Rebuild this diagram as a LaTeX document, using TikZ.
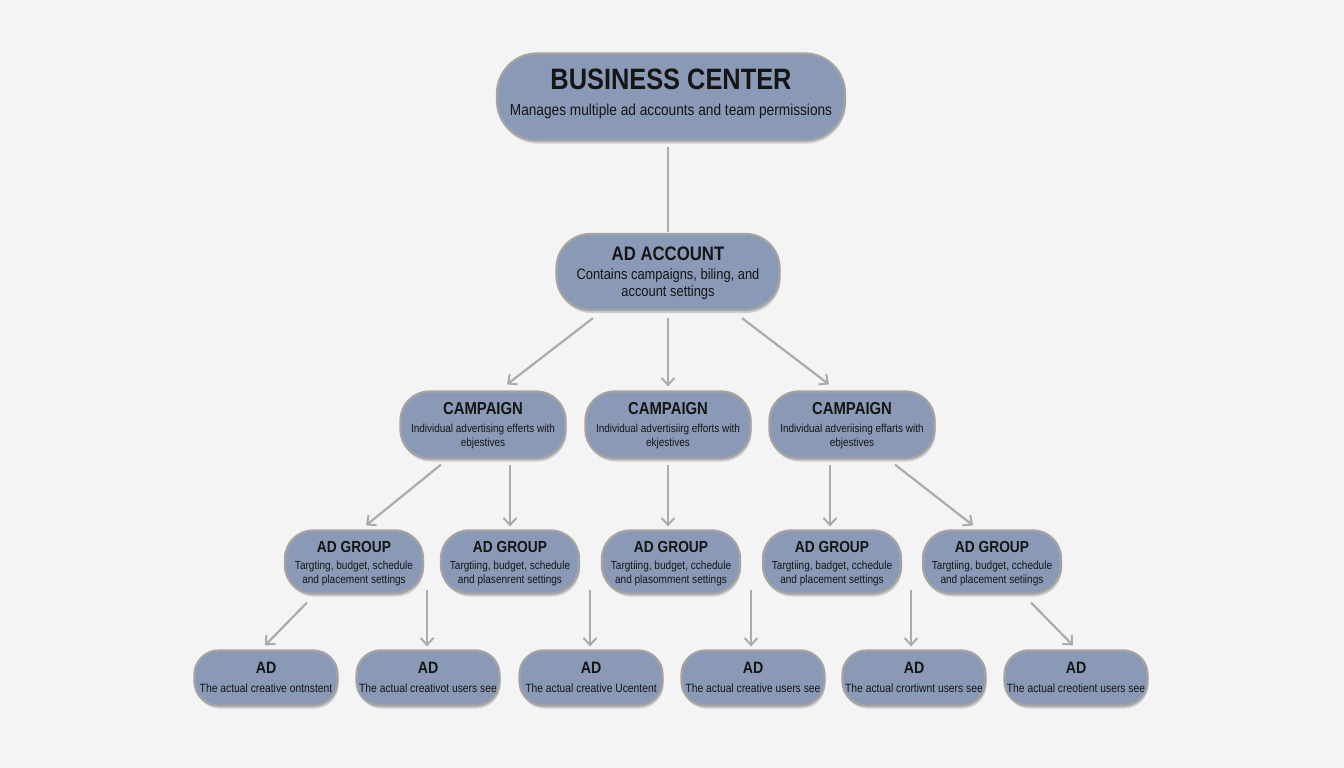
\documentclass[tikz,border=0pt]{standalone}
\usepackage{fontspec}
\setmainfont{Liberation Sans}[FakeStretch=0.86]
\usetikzlibrary{arrows.meta,calc,shadows}
\definecolor{bgc}{HTML}{F4F4F4}
\definecolor{boxfill}{HTML}{8A9AB6}
\definecolor{boxline}{HTML}{A3A3A3}
\definecolor{conncol}{HTML}{ABABAB}
\definecolor{txt}{HTML}{151515}
\tikzset{
  pill/.style={draw=boxline, line width=2.2pt, fill=boxfill, inner sep=0pt,
    drop shadow={shadow xshift=1pt, shadow yshift=-3pt, opacity=0.16, fill=black}},
  ttl/.style={inner sep=0pt, text=txt, font=\bfseries},
  sub/.style={inner sep=0pt, text=txt, align=center},
  conn/.style={draw=conncol, line width=2.2pt,
    -{Straight Barb[length=7pt,width=13pt,line width=2pt]}},
  plain/.style={draw=conncol, line width=2.4pt},
  bcbox/.style={pill, rounded corners=40pt, minimum width=348pt, minimum height=87pt},
  aabox/.style={pill, rounded corners=34pt, minimum width=223pt, minimum height=76pt},
  cbox/.style={pill, rounded corners=29pt, minimum width=165pt, minimum height=67pt},
  agbox/.style={pill, rounded corners=28pt, minimum width=138pt, minimum height=63pt},
  adbox/.style={pill, rounded corners=24pt, minimum width=143pt, minimum height=55pt},
  bct/.style={ttl, font=\fontsize{29.5}{31}\selectfont\bfseries},
  bcs/.style={sub, font=\fontsize{15.9}{18}\selectfont},
  aat/.style={ttl, font=\fontsize{19.5}{21}\selectfont\bfseries},
  aas/.style={sub, font=\fontsize{15}{17}\selectfont},
  ct/.style={ttl, font=\fontsize{17.3}{19}\selectfont\bfseries},
  cs/.style={sub, font=\fontsize{11.6}{13.5}\selectfont},
  agt/.style={ttl, font=\fontsize{16}{18}\selectfont\bfseries},
  ags/.style={sub, font=\fontsize{11.7}{14}\selectfont},
  adt/.style={ttl, font=\fontsize{16.5}{18}\selectfont\bfseries},
  ads/.style={sub, font=\fontsize{12}{13}\selectfont},
}
\begin{document}
\begin{tikzpicture}[x=1pt,y=-1pt]
\fill[bgc] (0,0) rectangle (1344,768);
\useasboundingbox (0,0) rectangle (1344,768);

% Business center
\node[bcbox] (bc) at (671,97) {};
\node[bct] (bct) at (671,79) {BUSINESS CENTER};
\node[bcs] (bcs) at (671,111) {Manages multiple ad accounts and team permissions};

% Ad account
\node[aabox] (aa) at (668,272) {};
\node[aat] (aat) at (668,254) {AD ACCOUNT};
\node[aas] (aas) at (668,284.5) {Contains campaigns, biling, and\\account settings};

% Campaigns
\foreach \n/\x/\s/\t in {c1/483/{Individual advertising efferts with}/ebjestives,
                        c2/668/{Individual advertisiirg efforts with}/ekjestives,
                        c3/852/{Individual adveriising effarts with}/ebjestives}{
  \node[cbox] (\n) at (\x,425) {};
  \node[ct] (\n t) at (\x,409) {CAMPAIGN};
  \node[cs] (\n s) at (\x,436.5) {\s\\\t};
}

% Ad groups
\foreach \n/\x/\s/\t in {ag1/354/{Targting, budget, schedule}/{and placement settings},
                        ag2/510/{Targtiing, budget, schedule}/{and plasenrent settings},
                        ag3/671/{Targtiing, budget, cchedule}/{and plasomment settings},
                        ag4/832/{Targtiing, badget, cchedule}/{and placement settings},
                        ag5/992/{Targtiing, budget, cchedule}/{and placement setiings}}{
  \node[agbox] (\n) at (\x,562) {};
  \node[agt] (\n t) at (\x,547) {AD GROUP};
  \node[ags] (\n s) at (\x,573) {\s\\\t};
}

% Ads
\foreach \n/\x/\s in {ad1/266/{The actual creative ontnstent},
                     ad2/428/{The actual creativot users see},
                     ad3/591/{The actual creative Ucentent},
                     ad4/753/{The actual creative users see},
                     ad5/914/{The actual crortiwnt users see},
                     ad6/1076/{The actual creotient users see}}{
  \node[adbox] (\n) at (\x,678) {};
  \node[adt] (\n t) at (\x,668) {AD};
  \node[ads] (\n s) at (\x,688) {\s};
}

% Connectors
\draw[plain] ($(bc.south)+(-3,5)$) -- ($(aa.north)+(0,-1)$);
\draw[conn] ($(aa.south)+(-75,7)$) -- ($(c1.north)+(24,-6)$);
\draw[conn] ($(aa.south)+(0,7)$) -- ($(c2.north)+(0,-4)$);
\draw[conn] ($(aa.south)+(74,7)$) -- ($(c3.north)+(-23,-6)$);

\draw[conn] ($(c1.south)+(-42,5)$) -- ($(ag1.north)+(12,-4)$);
\draw[conn] ($(c1.south)+(27,5)$) -- ($(ag2.north)+(0,-3)$);
\draw[conn] ($(c2.south)+(0,5)$) -- ($(ag3.north)+(-3,-3)$);
\draw[conn] ($(c3.south)+(-22,5)$) -- ($(ag4.north)+(-2,-3)$);
\draw[conn] ($(c3.south)+(43,5)$) -- ($(ag5.north)+(-19,-4)$);

\draw[conn] ($(ag1.south)+(-47,8)$) -- ($(ad1.north)+(-1,-4)$);
\draw[conn] ($(ad2.north)+(-1,-59)$) -- ($(ad2.north)+(-1,-3)$);
\draw[conn] ($(ad3.north)+(-1,-59)$) -- ($(ad3.north)+(-1,-3)$);
\draw[conn] ($(ad4.north)+(-2,-59)$) -- ($(ad4.north)+(-2,-3)$);
\draw[conn] ($(ad5.north)+(-3,-59)$) -- ($(ad5.north)+(-3,-3)$);
\draw[conn] ($(ag5.south)+(39,8)$) -- ($(ad6.north)+(-3,-4)$);
\end{tikzpicture}
\end{document}
